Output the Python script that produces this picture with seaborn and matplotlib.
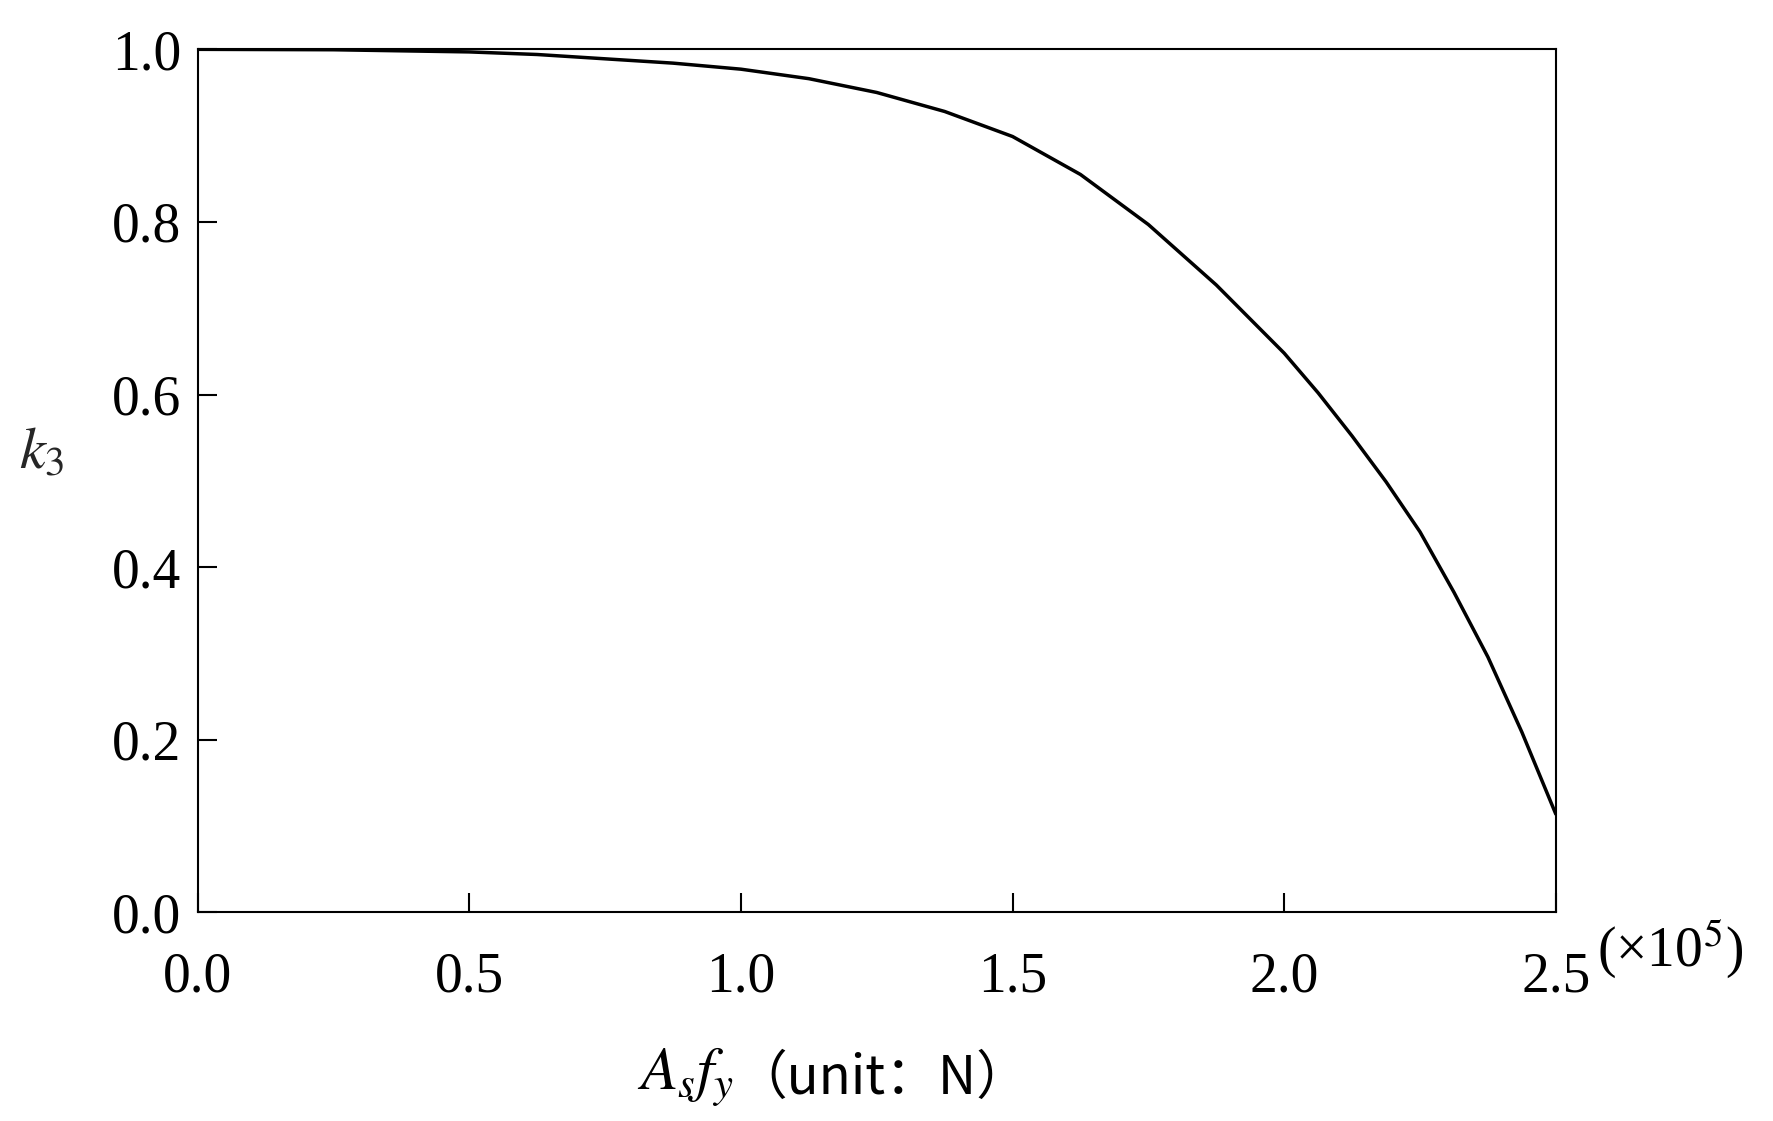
import numpy as np
import pandas as pd
import seaborn as sns
import matplotlib.pyplot as plt

# values (x in units of 1e5 N)
force = [0.0, 0.25, 0.5, 0.625, 0.75, 0.875, 1.0, 1.125, 1.25, 1.375, 1.5, 1.625, 1.75,
         1.875, 2.0, 2.0625, 2.125, 2.1875, 2.25, 2.3125, 2.375, 2.4375, 2.5]
k3 = [1.0, 0.9995, 0.997, 0.994, 0.989, 0.984, 0.977, 0.966, 0.950, 0.928, 0.899, 0.855, 0.797,
      0.727, 0.648, 0.602, 0.552, 0.499, 0.441, 0.371, 0.296, 0.209, 0.114]
xticks = [0.0, 0.5, 1.0, 1.5, 2.0, 2.5]
yticks = [0.0, 0.2, 0.4, 0.6, 0.8, 1.0]

sns.set_style("white")
plt.rcParams['font.family'] = ['Liberation Serif', 'Noto Sans CJK SC']
plt.rcParams['mathtext.fontset'] = 'stix'
plt.rcParams['text.color'] = 'black'
plt.rcParams['xtick.color'] = 'black'
plt.rcParams['ytick.color'] = 'black'

df = pd.DataFrame({"force": force, "k3": k3})

fig = plt.figure(figsize=(17.73, 11.21), dpi=100)
ax = fig.add_axes([0.1115, 0.186, 0.766, 0.770])
sns.lineplot(data=df, x="force", y="k3", color="black", linewidth=2.5, ax=ax)

ax.set_xlim(0, 2.5)
ax.set_ylim(0, 1.0)
ax.set_xticks(xticks)
ax.set_yticks(yticks)
ax.set_xticklabels([f"{t:.1f}" for t in xticks])
ax.set_yticklabels([f"{t:.1f}" for t in yticks])
ax.tick_params(direction="in", length=14, width=1.5, labelsize=40, pad=12,
               top=False, right=False, bottom=True, left=True)
ax.tick_params(axis="x", pad=28)
for s in ax.spines.values():
    s.set_linewidth(1.5)
    s.set_color("black")

ax.set_xlabel("")
ax.set_ylabel(r"$k_3$", fontsize=42, rotation=0, labelpad=10)
ax.yaxis.set_label_coords(-0.115, 0.5)
ax.text(0.395, -0.155, r"$A_s f_y$", transform=ax.transAxes, fontsize=44,
        ha="right", va="top")
ax.text(0.395, -0.16, "（unit：N）", transform=ax.transAxes, fontsize=38,
        ha="left", va="top", family=['Noto Sans CJK SC', 'Liberation Serif'])
ax.text(1.03, -0.005, r"(×10$^5$)", transform=ax.transAxes, fontsize=40,
        ha="left", va="top")

fig.savefig("out.png", dpi=100)
